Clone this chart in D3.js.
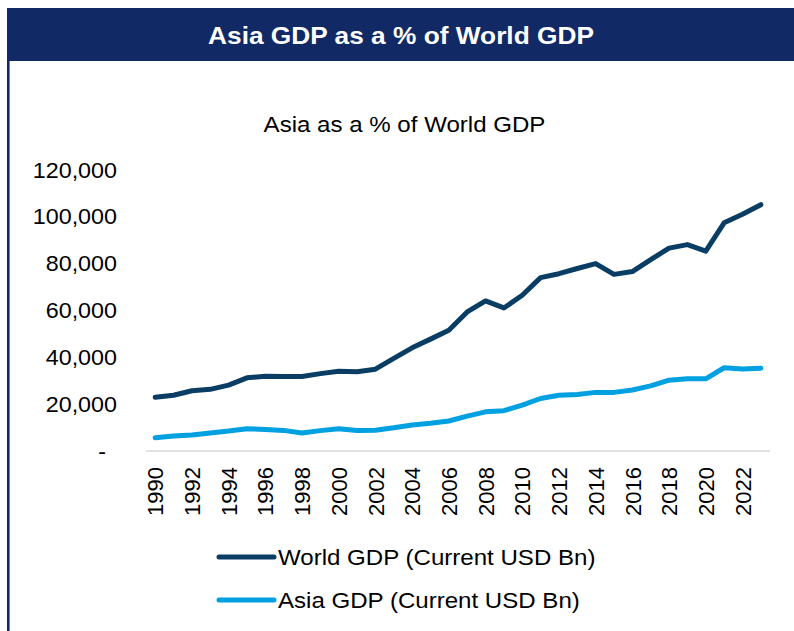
<!DOCTYPE html>
<html lang="en">
<head>
    <meta charset="UTF-8">
    <title>Asia GDP as a % of World GDP</title>
    <script src="https://d3js.org/d3.v7.min.js"></script>
    <style>
        body {
            margin: 0;
            background: #ffffff;
            font-family: Arial, "Liberation Sans", sans-serif;
        }

        svg text {
            fill: #000000;
        }

        .axis path,
        .axis line {
            stroke: #d9d9d9;
        }
    </style>
</head>
<body>
<svg width="794" height="631"></svg>

<script>
    // data (current USD bn)
    const years = [1990, 1991, 1992, 1993, 1994, 1995, 1996, 1997, 1998, 1999,
        2000, 2001, 2002, 2003, 2004, 2005, 2006, 2007, 2008, 2009,
        2010, 2011, 2012, 2013, 2014, 2015, 2016, 2017, 2018, 2019,
        2020, 2021, 2022, 2023];
    const worldGdp = [23100, 24000, 25900, 26500, 28300, 31400, 32100, 32000, 32000, 33200,
        34200, 34000, 35100, 39700, 44200, 47900, 51700, 59500, 64200, 61200,
        66600, 74100, 75800, 78000, 80100, 75500, 76700, 81800, 86700, 88200,
        85400, 97500, 101100, 105200];
    const asiaGdp = [5900, 6600, 7000, 7900, 8700, 9700, 9400, 9000, 7900, 8900,
        9700, 9000, 9100, 10100, 11300, 12000, 13000, 15100, 16900, 17400,
        19800, 22600, 24000, 24300, 25200, 25200, 26200, 28000, 30400, 31000,
        31000, 35700, 35200, 35500];
    const yTicks = [0, 20000, 40000, 60000, 80000, 100000, 120000];
    const xTicks = years.filter(y => y % 2 === 0);

    const seriesNames = ["World GDP (Current USD Bn)", "Asia GDP (Current USD Bn)"];
    const seriesColors = ["#0a3d63", "#00a0e1"];

    const width = 794;
    const height = 631;
    const margin = { top: 170, right: 24, bottom: 180, left: 146 };
    const SX = 1.095; // text in the picture is a little wider than Arial
    const navy = "#112a65";

    const svg = d3.select("svg");

    // frame: header band + left rule
    svg.append("rect")
        .attr("x", 7).attr("y", 8)
        .attr("width", width - 7).attr("height", 53)
        .attr("fill", navy);
    svg.append("line")
        .attr("x1", 8).attr("x2", 8)
        .attr("y1", 8).attr("y2", height)
        .attr("stroke", navy).attr("stroke-width", 2);
    svg.append("line")
        .attr("x1", 9.5).attr("x2", 9.5)
        .attr("y1", 61).attr("y2", height)
        .attr("stroke", "#6d80b4").attr("stroke-width", 1);

    svg.append("text")
        .attr("transform", `translate(401,44) scale(${SX},1)`)
        .attr("text-anchor", "middle")
        .style("font-size", "24px")
        .style("font-weight", "bold")
        .style("fill", "#ffffff")
        .text("Asia GDP as a % of World GDP");

    svg.append("text")
        .attr("transform", `translate(404.5,132) scale(${SX},1)`)
        .attr("text-anchor", "middle")
        .style("font-size", "22px")
        .text("Asia as a % of World GDP");

    // scales
    const x = d3.scalePoint()
        .domain(years)
        .range([margin.left, width - margin.right])
        .padding(0.5);

    const y = d3.scaleLinear()
        .domain([0, 120000])
        .range([451.5, margin.top]);

    // y axis (no line, labels only)
    const yAxis = svg.append("g")
        .attr("class", "axis")
        .attr("transform", `translate(${margin.left},0)`)
        .call(d3.axisLeft(y)
            .tickValues(yTicks)
            .tickSize(0)
            .tickPadding(0)
            .tickFormat(d => d === 0 ? "-" : d3.format(",")(d)));
    yAxis.select(".domain").remove();
    yAxis.selectAll("text")
        .attr("x", 0)
        .attr("transform", d => `translate(${d === 0 ? -40 : -29},0) scale(1.06,1)`)
        .style("font-size", "22px");

    // x axis
    const xAxis = svg.append("g")
        .attr("class", "axis")
        .attr("transform", `translate(0,451)`)
        .call(d3.axisBottom(x)
            .tickValues(xTicks)
            .tickSize(0)
            .tickSizeOuter(0)
            .tickPadding(0));
    xAxis.select(".domain")
        .attr("d", `M${margin.left},0H${width - margin.right}`)
        .attr("stroke-width", 1.5);
    xAxis.selectAll("text")
        .attr("transform", "rotate(-90)")
        .attr("text-anchor", "end")
        .attr("x", -16)
        .attr("y", 0)
        .attr("dy", "0.35em")
        .style("font-size", "22px");

    // lines
    const line = d3.line()
        .x((d, i) => x(years[i]))
        .y(d => y(d));

    [worldGdp, asiaGdp].forEach((values, k) => {
        svg.append("path")
            .datum(values)
            .attr("fill", "none")
            .attr("stroke", seriesColors[k])
            .attr("stroke-width", 5)
            .attr("stroke-linejoin", "round")
            .attr("stroke-linecap", "round")
            .attr("d", line);
    });

    // legend
    const legend = svg.append("g")
        .selectAll("g")
        .data(seriesNames)
        .join("g")
        .attr("transform", (d, i) => `translate(219,${557 + i * 43})`);

    legend.append("line")
        .attr("x1", 0).attr("x2", 55)
        .attr("stroke", (d, i) => seriesColors[i])
        .attr("stroke-width", 5)
        .attr("stroke-linecap", "round");

    legend.append("text")
        .attr("transform", `translate(59,0) scale(${SX},1)`)
        .attr("dy", "0.35em")
        .style("font-size", "22px")
        .text(d => d);
</script>
</body>
</html>
